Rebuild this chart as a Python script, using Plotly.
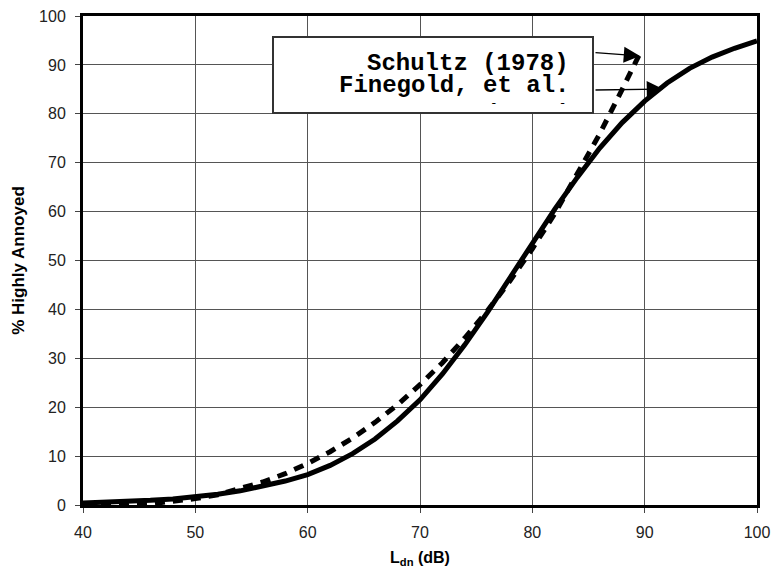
import plotly.graph_objects as go

# Finegold et al. (1994) curve (solid)
fin_x = [40, 42, 44, 46, 48, 50, 52, 54, 56, 58, 60, 62, 64, 66, 68, 70, 72, 74, 76, 78,
         80, 82, 84, 86, 88, 90, 92, 94, 96, 98, 100]
fin_y = [0.4, 0.5, 0.7, 0.95, 1.25, 1.65, 2.2, 2.9, 3.8, 4.9, 6.2, 8.1, 10.5, 13.5, 17.2, 21.5,
         26.8, 32.8, 39.4, 46.4, 53.5, 60.5, 67.0, 73.0, 78.2, 82.6, 86.3, 89.3, 91.6, 93.4, 94.9]

# Schultz (1978) curve (dashed)
sch_x = [40, 42, 44, 46, 48, 50, 52, 54, 56, 58, 60, 62, 64, 66, 68, 70, 72, 74, 76, 78,
         80, 82, 84, 86, 88, 89.5]
sch_y = [0.1, 0.05, 0.05, 0.25, 0.65, 1.3, 2.1, 3.3, 4.7, 6.4, 8.5, 10.9, 13.7, 16.9, 20.5, 24.6,
         29.1, 34.2, 39.7, 45.8, 52.4, 59.6, 67.5, 75.9, 85.0, 92.0]

x_ticks = [40, 50, 60, 70, 80, 90, 100]
y_ticks = [0, 10, 20, 30, 40, 50, 60, 70, 80, 90, 100]

legend_lines = ["Schultz (1978)", "Finegold, et al.", "(1994)"]

fig = go.Figure()
fig.add_trace(go.Scatter(x=fin_x, y=fin_y, mode="lines",
                         line=dict(color="black", width=5), showlegend=False))
fig.add_trace(go.Scatter(x=sch_x, y=sch_y, mode="lines",
                         line=dict(color="black", width=5, dash="10px,8px"), showlegend=False))

# pixel -> data helpers for the callout box
def dx(px):
    return 40 + (px - 83) * 60.0 / 674.0

def dy(py):
    return (505 - py) * 100.0 / 489.0

fig.add_shape(type="rect", xref="x", yref="y",
              x0=dx(273), x1=dx(593), y0=dy(113), y1=dy(37),
              line=dict(color="#333", width=2), fillcolor="white", layer="above")

mono = dict(family="Liberation Mono, Courier New, monospace", size=24, color="black")
fig.add_annotation(x=dx(571), y=dy(63), xref="x", yref="y", text="<b>" + legend_lines[0] + "</b>",
                   showarrow=False, xanchor="right", yanchor="middle", font=mono)
fig.add_annotation(x=dx(571), y=dy(85), xref="x", yref="y", text="<b>" + legend_lines[1] + "</b>",
                   showarrow=False, xanchor="right", yanchor="middle", font=mono)
fig.add_annotation(x=dx(571), y=dy(101), xref="x", yref="y", text="<b>" + legend_lines[2] + "</b>",
                   showarrow=False, xanchor="right", yanchor="top", font=mono,
                   height=3, valign="top", borderpad=0, borderwidth=0)

# callout arrows
fig.add_annotation(x=dx(640), y=dy(56), ax=dx(594), ay=dy(52.5), xref="x", yref="y",
                   axref="x", ayref="y", text="", showarrow=True, arrowhead=2,
                   arrowsize=2.5, arrowwidth=1.3, arrowcolor="black")
fig.add_annotation(x=dx(663), y=dy(89), ax=dx(594), ay=dy(90), xref="x", yref="y",
                   axref="x", ayref="y", text="", showarrow=True, arrowhead=2,
                   arrowsize=2.5, arrowwidth=1.3, arrowcolor="black")

tickfont = dict(family="Liberation Sans, Arial, sans-serif", size=16, color="#222")
titlefont = dict(family="Liberation Sans, Arial, sans-serif", size=16, color="black")
fig.update_xaxes(range=[40, 100], tickvals=x_ticks, showgrid=True, gridcolor="#555", gridwidth=1,
                 showline=True, linecolor="black", linewidth=3, mirror=True,
                 ticks="outside", ticklen=5, tickcolor="#444", tickfont=tickfont,
                 ticklabelstandoff=6, zeroline=False, automargin=False,
                 title=dict(text="<b>L<sub>dn</sub> (dB)</b>", standoff=12, font=titlefont))
fig.update_yaxes(range=[0, 100], tickvals=y_ticks, showgrid=True, gridcolor="#555", gridwidth=1,
                 showline=True, linecolor="black", linewidth=3, mirror=True,
                 ticks="outside", ticklen=5, tickcolor="#444", tickfont=tickfont,
                 ticklabelstandoff=6, zeroline=False, automargin=False,
                 title=dict(text="<b>% Highly Annoyed</b>", standoff=11,
                            font=dict(family="Liberation Sans, Arial, sans-serif", size=17, color="black")))

fig.update_layout(width=773, height=571, margin=dict(l=83, r=16, t=16, b=66),
                  paper_bgcolor="white", plot_bgcolor="white", showlegend=False)

fig.write_html("out.html")
